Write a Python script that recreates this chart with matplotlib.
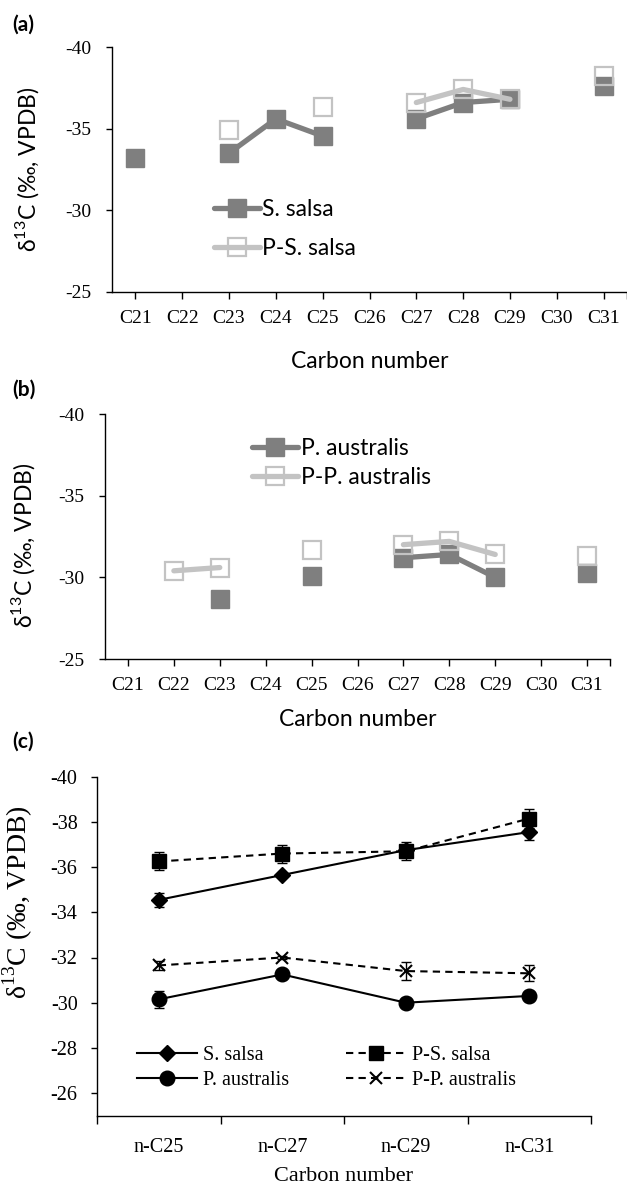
import numpy as np
import matplotlib
matplotlib.use("Agg")
import matplotlib.pyplot as plt

nan = np.nan

# panels (a) and (b): individual carbon numbers
carbons = ["C21", "C22", "C23", "C24", "C25", "C26", "C27", "C28", "C29", "C30", "C31"]
s_salsa = [-33.2, nan, -33.5, -35.6, -34.55, nan, -35.6, -36.6, -36.8, nan, -37.6]
p_s_salsa = [nan, nan, -34.9, nan, -36.3, nan, -36.6, -37.4, -36.8, nan, -38.2]
p_australis = [nan, nan, -28.7, nan, -30.1, nan, -31.2, -31.4, -30.0, nan, -30.25]
p_p_australis = [nan, -30.4, -30.6, nan, -31.7, nan, -32.0, -32.2, -31.4, nan, -31.3]

# panel (c): means and errors
chains = ["n-C25", "n-C27", "n-C29", "n-C31"]
ss_mean = [-34.55, -35.65, -36.75, -37.55]
ss_err = [0.3, 0.1, 0.2, 0.37]
pss_mean = [-36.25, -36.6, -36.7, -38.15]
pss_err = [0.4, 0.4, 0.4, 0.4]
pa_mean = [-30.15, -31.25, -30.0, -30.3]
pa_err = [0.38, 0.1, 0.2, 0.15]
ppa_mean = [-31.65, -32.0, -31.4, -31.3]
ppa_err = [0.2, 0.05, 0.38, 0.35]

plt.rcParams["axes.unicode_minus"] = False

SANS = ["Lato", "DejaVu Sans"]
SERIF = ["Liberation Serif", "DejaVu Serif"]
DARK = "#7f7f7f"
LIGHT = "#c3c3c3"
YLABEL = "δ$^{\\mathregular{13}}$C (‰, VPDB)"

fig = plt.figure(figsize=(6.27, 11.88), dpi=100)


def base_axes(rect):
    ax = fig.add_axes(rect)
    ax.spines["top"].set_visible(False)
    ax.spines["right"].set_visible(False)
    ax.spines["left"].set_linewidth(1)
    ax.spines["bottom"].set_linewidth(1)
    return ax


def carbon_panel(ax, first, second, names, leg_pos, xpad, lspace):
    x = np.arange(len(carbons))
    ax.plot(x, first, color=DARK, lw=3.8, marker="s", ms=13, mfc=DARK, mec=DARK,
            solid_capstyle="round", label=names[0])
    ax.plot(x, second, color=LIGHT, lw=3.8, marker="s", ms=13, mfc="none", mec=LIGHT,
            mew=1.6, solid_capstyle="round", label=names[1])
    ax.set_xlim(-0.5, len(carbons) - 0.5)
    ax.set_ylim(-25, -40)
    # category ticks plus a closing tick at the axis end
    ax.set_xticks(list(x) + [len(carbons) - 0.5])
    ax.set_xticklabels(carbons + [""])
    ax.set_yticks([-40, -35, -30, -25])
    ax.tick_params(axis="x", direction="out", length=5, width=1, pad=8,
                   labelsize=14, labelfontfamily=SERIF)
    ax.tick_params(axis="y", direction="out", length=4, width=1, pad=11,
                   labelsize=14, labelfontfamily=SERIF)
    ax.set_xlabel("Carbon number", fontsize=16.5, fontfamily=SANS, labelpad=xpad)
    ax.set_ylabel(YLABEL, fontsize=16.5, fontfamily=SANS)
    ax.legend(loc="center left", bbox_to_anchor=leg_pos, frameon=False,
              prop={"family": SANS, "size": 16.5}, handlelength=2.0,
              handletextpad=0.1, borderpad=0, borderaxespad=0, labelspacing=lspace)


# (a)
ax_a = base_axes([112 / 627, 1 - 292 / 1188, 515 / 627, 245 / 1188])
carbon_panel(ax_a, s_salsa, p_s_salsa, ["S. salsa", "P-S. salsa"], (0.198, 0.257), 17, 0.8)
ax_a.yaxis.set_label_coords(-0.138, 0.5)

# (b)
ax_b = base_axes([105 / 627, 1 - 659 / 1188, 505 / 627, 245 / 1188])
carbon_panel(ax_b, p_australis, p_p_australis, ["P. australis", "P-P. australis"],
             (0.292, 0.80), 11, 0.35)
ax_b.yaxis.set_label_coords(-0.135, 0.463)

# (c)
ax_c = base_axes([97 / 627, 1 - 1115.7 / 1188, 494 / 627, 339 / 1188])
xc = np.arange(len(chains))
ekw = dict(fmt="none", ecolor="black", elinewidth=1, capsize=3.5, capthick=1, zorder=2)
ax_c.errorbar(xc, ss_mean, yerr=ss_err, **ekw)
ax_c.errorbar(xc, pss_mean, yerr=pss_err, **ekw)
ax_c.errorbar(xc, pa_mean, yerr=pa_err, **ekw)
ax_c.errorbar(xc, ppa_mean, yerr=ppa_err, **ekw)
h1, = ax_c.plot(xc, ss_mean, color="black", lw=1.5, marker="D", ms=8.5, zorder=3)
h2, = ax_c.plot(xc, pss_mean, color="black", lw=1.5, marker="s", ms=10.5,
                dashes=(3.5, 2.5), zorder=3)
h3, = ax_c.plot(xc, pa_mean, color="black", lw=1.5, marker="o", ms=10.5, zorder=3)
h4, = ax_c.plot(xc, ppa_mean, color="black", lw=1.5, marker="x", ms=8.5, mew=1.5,
                dashes=(3.5, 2.5), zorder=3)
ax_c.set_xlim(-0.5, len(chains) - 0.5)
ax_c.set_ylim(-25, -40)
ax_c.set_xticks(np.arange(len(chains) + 1) - 0.5)
ax_c.set_xticklabels([])
ax_c.set_xticks(xc, minor=True)
ax_c.set_xticklabels(chains, minor=True)
ax_c.set_yticks(np.arange(-40, -25, 2))
ax_c.tick_params(axis="x", which="major", direction="out", length=6, width=1)
ax_c.tick_params(axis="x", which="minor", length=0, pad=16, labelsize=14.5,
                 labelfontfamily=SERIF)
ax_c.tick_params(axis="y", direction="out", length=4, width=1, pad=10,
                 labelsize=14.5, labelfontfamily=SERIF)
ax_c.set_xlabel("Carbon number", fontsize=16, fontfamily=SERIF, labelpad=7)
ax_c.set_ylabel(YLABEL, fontsize=20, fontfamily=SERIF)
ax_c.yaxis.set_label_coords(-0.126, 0.63)
ax_c.legend([h1, h3, h2, h4], ["S. salsa", "P. australis", "P-S. salsa", "P-P. australis"],
            ncol=2, loc="center left", bbox_to_anchor=(0.081, 0.141), frameon=False,
            prop={"family": SERIF, "size": 14.5}, handlelength=3.0, handletextpad=0.3,
            columnspacing=2.8, labelspacing=0.3, borderpad=0, borderaxespad=0)

# panel letters
for letter, ypix in [("(a)", 25), ("(b)", 390), ("(c)", 742)]:
    fig.text(12 / 627, 1 - ypix / 1188, letter, fontsize=15, fontweight="bold",
             fontfamily=SANS, va="center", ha="left")

fig.savefig("out.png", dpi=100)
